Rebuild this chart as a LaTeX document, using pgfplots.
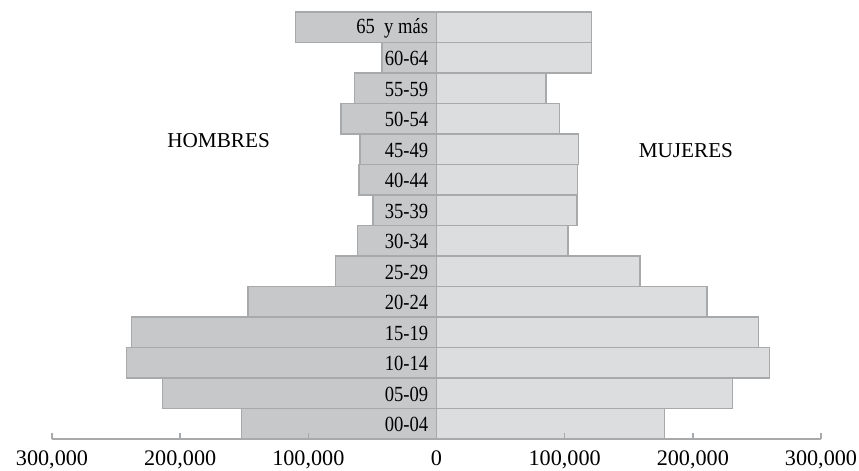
\documentclass[border=0pt]{standalone}
\usepackage{fontspec}
\setmainfont{Liberation Serif}
\usepackage{graphicx}
\usepackage{pgfplots}
\pgfplotsset{compat=1.18}
\definecolor{hom}{HTML}{C7C8CA}
\definecolor{muj}{HTML}{DCDDDF}
\definecolor{edge}{HTML}{A8A9AB}
\newcommand\cat[1]{\scalebox{0.86}[1]{#1}}

\begin{document}
\begin{tikzpicture}
\begin{axis}[
  scale only axis, width=384.5pt, height=213.5pt,
  xmin=-300, xmax=300, ymin=0.5, ymax=14.5,
  xbar, bar width=15.25pt, bar shift=0pt,
  axis on top,
  axis x line=bottom, axis y line=center,
  hide obscured x ticks=false,
  x axis line style={-, draw=edge, line width=0.7pt},
  y axis line style={draw=none},
  xtick={-300,-200,-100,0,100,200,300},
  xticklabels={{300,000},{200,000},{100,000},0,{100,000},{200,000},{300,000}},
  xtick style={draw=edge, line width=0.7pt},
  major tick length=3pt, tick align=inside,
  xticklabel style={font=\fontsize{11.1}{13}\selectfont, yshift=-2.5pt},
  ytick={1,...,14},
  yticklabels={\cat{00-04},\cat{05-09},\cat{10-14},\cat{15-19},\cat{20-24},\cat{25-29},\cat{30-34},
    \cat{35-39},\cat{40-44},\cat{45-49},\cat{50-54},\cat{55-59},\cat{60-64},\cat{65\ \ y más}},
  ytick style={draw=none},
  yticklabel style={anchor=east, inner sep=0pt, xshift=-4pt, yshift=-0.4pt, font=\fontsize{10.8}{12}\selectfont},
]
% hombres (negativos, en miles)
\addplot[fill=hom, draw=edge, line width=0.7pt] coordinates {
  (-152,1) (-214,2) (-242,3) (-238,4) (-147,5) (-79,6) (-61.5,7)
  (-49.5,8) (-60.5,9) (-59.7,10) (-74.5,11) (-64,12) (-42.5,13) (-110,14)
};
% mujeres
\addplot[fill=muj, draw=edge, line width=0.7pt] coordinates {
  (178,1) (231,2) (260,3) (251,4) (211,5) (158.7,6) (102.7,7)
  (109.6,8) (110,9) (111,10) (96,11) (85.4,12) (121,13) (121,14)
};
\node[font=\fontsize{10.6}{12}\selectfont] at (axis cs:-170,10.3) {HOMBRES};
\node[font=\fontsize{10.6}{12}\selectfont] at (axis cs:194.6,9.94) {MUJERES};
\end{axis}
\path (current axis.south west) ++(-26pt,-15.5pt) coordinate (bl);
\path (current axis.north east) ++(19pt,6pt) coordinate (tr);
\pgfresetboundingbox
\path[use as bounding box] (bl) rectangle (tr);
\end{tikzpicture}
\end{document}
